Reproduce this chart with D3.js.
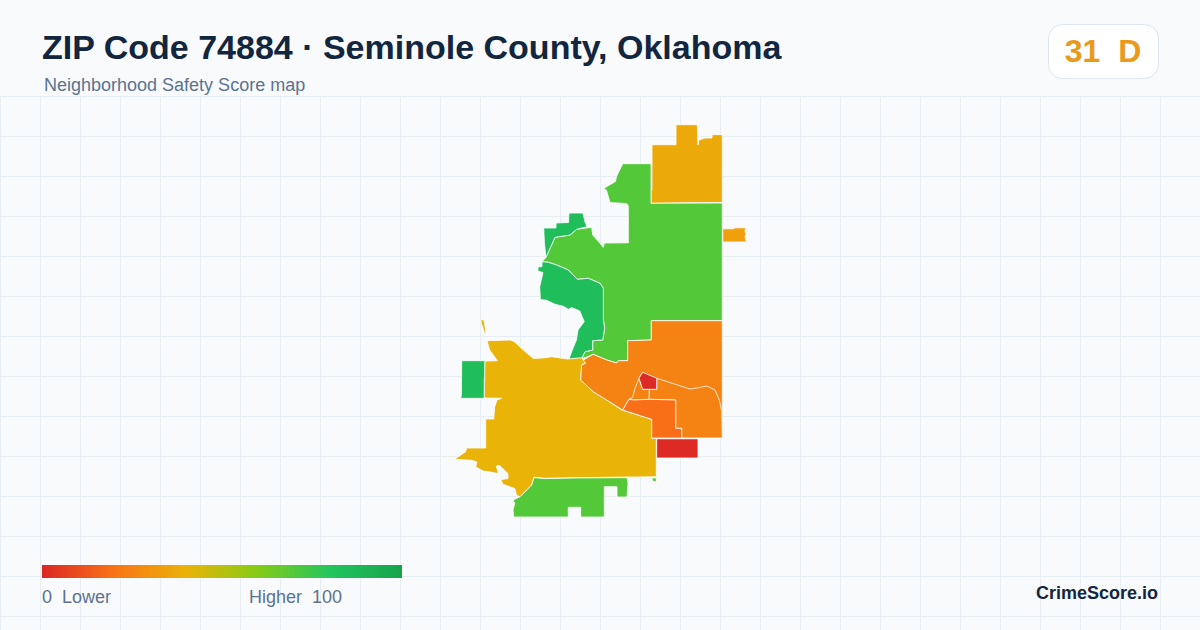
<!DOCTYPE html>
<html>
<head>
<meta charset="utf-8">
<title>ZIP Code 74884</title>
<script src="https://cdn.jsdelivr.net/npm/d3@7/dist/d3.min.js"></script>
<style>
html, body { margin: 0; padding: 0; background: #f8fafc; }
svg { display: block; font-family: "Liberation Sans", Arial, sans-serif; }
</style>
</head>
<body>
<svg id="chart" width="1200" height="630"></svg>
<script>
// Color ramp
var rampStops = [0, 20, 40, 60, 80, 100];
var rampColors = ["#dc2626", "#f97316", "#eab308", "#84cc16", "#22c55e", "#16a34a"];

// Region scores, same order as regionOutlines
var regionNames = ["north", "centerLime", "nwGreen", "midGreen", "eastSpeck", "sliver", "westGreen", "gold", "southLime", "southSpeck", "southRed", "eastOrange", "lowerLeft", "lowerRight", "core", "coreRed"];
var regionScores = [37, 70, 84, 84, 34, 40, 84, 40, 70, 70, 1, 25, 25, 25, 19, 1];

// Outlines, in map units
var north = [[652,144.7],[676,144.7],[676,124.7],[697.3,124.7],[698,145],[699,140],[705,138],[712,138],[712,134.7],[722.3,134.7],[722.3,202.5],[687,202.7],[651,203.3],[651,190],[652,190]];
var centerLime = [[622.7,163.7],[651,163.7],[651,203.3],[722.3,203],[722.3,320.7],[651.3,320.7],[651.3,340],[627.7,340.7],[627.7,360.7],[618.3,360.7],[616.7,363],[606.7,360],[593.3,354.3],[585,357.7],[581.7,358.3],[585,351.7],[592.7,350],[592.7,340.7],[602.7,340],[604.7,328],[603.3,320],[603.3,288.3],[600,283.3],[588.3,278.3],[577.3,279.3],[568.3,270],[556.7,265],[548.3,262.3],[542,261.7],[546,257.3],[555,237.3],[570,235],[576.7,229.3],[591.7,227.3],[592.7,235],[600,243.3],[603.3,247.3],[604.3,243],[628.3,242.8],[628.3,206],[626.7,203.6],[610,202.6],[606.4,190],[603.8,188.3],[615.5,181.5],[616.5,176.5]];
var nwGreen = [[543.7,228],[556,228],[556,223],[568.5,222.5],[569,213],[583,213],[584.9,221.7],[587,226.7],[576.7,229.3],[570,235],[555,237.3],[546,257.3],[544.4,243]];
var midGreen = [[542,261.7],[542,266.5],[538,267],[538,271.2],[543,272.5],[539.7,286.7],[540.4,299.6],[546.7,300.3],[555,304.3],[563.3,306.3],[568.3,309.3],[571.7,307.6],[579.8,311],[584.2,321.7],[578,330],[576.4,340],[573,348.3],[568.8,359.2],[581.7,358.3],[585,351.7],[592.7,350],[592.7,340.7],[602.7,340],[604.7,328],[603.3,320],[603.3,288.3],[600,283.3],[588.3,278.3],[577.3,279.3],[568.3,270],[556.7,265],[548.3,262.3]];
var eastSpeck = [[722.8,228.8],[733.3,228.8],[735,227.8],[745.6,227.8],[745,231.7],[746,234],[745,236.7],[746.3,242],[722.8,242]];
var sliver = [[480.8,319.6],[484,320],[486,333.4],[484.6,333.4],[483,328.3],[481.4,323.3]];
var westGreen = [[461.7,360.7],[485,360.7],[485,379.3],[484.3,379.3],[484.3,398.3],[460.7,398.3],[461.4,395]];
var gold = [[487,340.7],[510,340],[514,341.4],[523.3,350],[533.3,358.4],[543.3,358],[551.7,356.7],[560,358],[568.3,359],[581.7,357.7],[583.3,360],[585.7,363.3],[581.7,365],[580.7,380],[593.3,391.7],[606.7,400],[621.7,410],[651.7,419.3],[651.7,438.3],[656.3,438.3],[656.3,476.7],[575,477.7],[545,478.3],[534,477.3],[531.7,485],[520,496.9],[516.5,495.3],[514.8,488.6],[503,484.3],[500.7,479.6],[508,478.6],[508,473.6],[499.3,465.3],[496.4,466],[498.3,473.6],[490,472],[483.3,471],[475.7,467],[477,462],[471.7,460.3],[454.5,459.3],[465.7,451.7],[466.4,448],[485.7,448],[485.7,419],[493.7,419],[494.7,406.7],[497,400],[501.7,398.3],[484.3,398],[485,361],[497.3,360.7],[489.7,350]];
var southLime = [[534,477.7],[545,478.6],[575,478],[627,477.7],[628,483.3],[627,497],[617,497],[617,486.7],[604.3,486.7],[604.3,517],[580.7,517],[580.7,507.3],[568.3,507.3],[568.3,517],[513.7,517],[513,510],[514.7,503.3],[513,500],[520,496.7],[531.7,485]];
var southSpeck = [[651.6,478],[656.3,478],[656.3,482],[653,481.3]];
var southRed = [[656.7,438.8],[698,438.8],[698,458],[656.7,458]];
var eastOrange = [[651.3,320.7],[722.3,320.7],[722.3,438],[681.7,438],[681.7,428.3],[675.7,428.3],[675.7,400],[649.3,399.3],[633.3,400],[629,399.3],[622.7,410],[606.7,400],[593.3,391.7],[580.7,380],[581.7,365],[585.7,363.3],[583.3,360],[593.3,354.3],[606.7,360],[616.7,363],[618.3,360.7],[627.7,360.7],[627.7,340.7],[651.3,340]];
var lowerLeft = [[642.7,372.3],[639,378.3],[642.7,389.3],[649.3,389.3],[649.3,399.3],[633.3,400],[629,399.3],[632.7,397.3],[635,388.3],[638.3,380]];
var lowerRight = [[656.7,378.3],[690,389],[698.3,387.7],[706.7,386],[715,390],[719.3,400],[721.7,411],[722.3,438],[681.7,438],[681.7,428.3],[675.7,428.3],[675.7,400],[649.3,399.3],[649.3,389.3],[656.7,389.3]];
var core = [[622.7,410],[629,399.3],[633.3,400],[649.3,399.3],[675.7,400],[675.7,428.3],[681.7,428.3],[681.7,438],[651.7,438],[651.7,419.3]];
var coreRed = [[642.7,372.3],[656.7,378.3],[656.7,389.3],[642.7,389.3],[639,378.3]];
var regionOutlines = [north, centerLime, nwGreen, midGreen, eastSpeck, sliver, westGreen, gold, southLime, southSpeck, southRed, eastOrange, lowerLeft, lowerRight, core, coreRed];

// Legend and header text
var titleText = "ZIP Code 74884 \u00b7 Seminole County, Oklahoma";
var subtitleText = "Neighborhood Safety Score map";
var overallScore = 31;
var overallGrade = "D";
var badgeColor = "#ea9a1a";
var legendLow = "0  Lower";
var legendHigh = "Higher  100";
var brandText = "CrimeScore.io";

var width = 1200, height = 630;
var svg = d3.select("#chart");

var color = d3.scaleLinear().domain(rampStops).range(rampColors).interpolate(d3.interpolateRgb);
var mapX = d3.scaleLinear().domain([0, 1200]).range([0, width]);
var mapY = d3.scaleLinear().domain([0, 630]).range([0, height]);
var outline = d3.line().x(function (d) { return mapX(d[0]); }).y(function (d) { return mapY(d[1]); });
var legendX = d3.scaleLinear().domain([0, 100]).range([42, 402]);

function drawGrid() {
    var xs = d3.range(0.5, width, 40);
    var ys = d3.range(96.5, height, 40);
    var grid = svg.append("g").attr("stroke", "#e6eef3").attr("stroke-width", 1);
    grid.selectAll("line.v").data(xs).enter().append("line").attr("class", "v")
        .attr("x1", function (d) { return d; }).attr("x2", function (d) { return d; })
        .attr("y1", 96).attr("y2", height);
    grid.selectAll("line.h").data(ys).enter().append("line").attr("class", "h")
        .attr("x1", 0).attr("x2", width)
        .attr("y1", function (d) { return d; }).attr("y2", function (d) { return d; });
}

function drawMap() {
    svg.append("g").selectAll("path").data(regionOutlines).enter().append("path")
        .attr("class", function (d, i) { return "region " + regionNames[i]; })
        .attr("d", function (d) { return outline(d) + "Z"; })
        .attr("fill", function (d, i) { return color(regionScores[i]); })
        .attr("stroke", "#ffffff")
        .attr("stroke-width", 0.8)
        .attr("stroke-linejoin", "round");
}

function drawHeader() {
    svg.append("text").attr("x", 42).attr("y", 58.5)
        .attr("font-size", 34).attr("font-weight", 700).attr("fill", "#12263f")
        .text(titleText);
    svg.append("text").attr("x", 44).attr("y", 91)
        .attr("font-size", 18).attr("fill", "#5b7390")
        .text(subtitleText);
    svg.append("rect").attr("x", 1048.5).attr("y", 24.5).attr("width", 110).attr("height", 54).attr("rx", 14)
        .attr("fill", "#ffffff").attr("stroke", "#dde5ee");
    svg.append("text").attr("x", 1103).attr("y", 62).attr("text-anchor", "middle")
        .attr("font-size", 32).attr("font-weight", 700).attr("fill", badgeColor)
        .style("white-space", "pre")
        .text(overallScore + "  " + overallGrade);
}

function drawLegend() {
    var grad = svg.append("defs").append("linearGradient").attr("id", "ramp");
    grad.selectAll("stop").data(rampStops).enter().append("stop")
        .attr("offset", function (d) { return d + "%"; })
        .attr("stop-color", function (d) { return color(d); });
    svg.append("rect").attr("x", legendX(0)).attr("y", 565)
        .attr("width", legendX(100) - legendX(0)).attr("height", 13)
        .attr("fill", "url(#ramp)");
    svg.append("text").attr("x", 42).attr("y", 603).attr("font-size", 18).attr("fill", "#5b7390")
        .style("white-space", "pre").text(legendLow);
    svg.append("text").attr("x", 249).attr("y", 603).attr("font-size", 18).attr("fill", "#5b7390")
        .style("white-space", "pre").text(legendHigh);
    svg.append("text").attr("x", 1158).attr("y", 599).attr("text-anchor", "end")
        .attr("font-size", 18).attr("font-weight", 700).attr("fill", "#12263f")
        .text(brandText);
}

drawGrid();
drawMap();
drawHeader();
drawLegend();
</script>
</body>
</html>
